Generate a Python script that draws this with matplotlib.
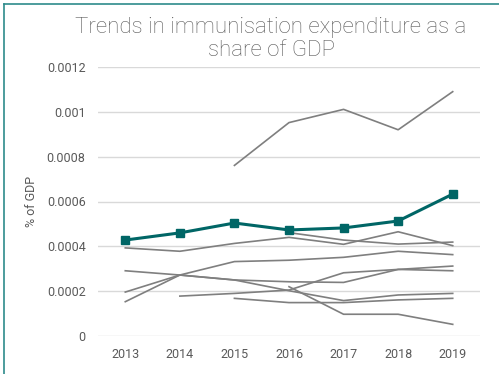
import numpy as np
import matplotlib.pyplot as plt
from matplotlib.lines import Line2D

plt.rcParams['font.family'] = ['Roboto', 'DejaVu Sans']

years = [2013, 2014, 2015, 2016, 2017, 2018, 2019]
nan = np.nan

# highlighted series
main = [0.000428, 0.00046, 0.000504, 0.000473, 0.000482, 0.000513, 0.000633]

# other countries (grey)
others = [
    [nan, nan, 0.000761, 0.000952, 0.001011, 0.00092, 0.00109],
    [0.000393, 0.000378, 0.000413, 0.00044, 0.000409, 0.000465, 0.000403],
    [nan, nan, nan, 0.000461, 0.000428, 0.00041, 0.000419],
    [0.000291, 0.000272, 0.00025, 0.000242, 0.000239, 0.000297, 0.000291],
    [0.000196, 0.000272, 0.000332, 0.000338, 0.000351, 0.000378, 0.000363],
    [0.000153, 0.000272, 0.00025, 0.000202, 0.000158, 0.000183, 0.00019],
    [nan, 0.000178, 0.00019, 0.000205, 0.000282, 0.000297, 0.000312],
    [nan, nan, 0.000168, 0.000149, 0.000149, 0.000161, 0.000168],
    [nan, nan, nan, 0.00022, 0.000097, 0.000097, 0.000052],
]

fig = plt.figure(figsize=(4.99, 3.74), dpi=100)
ax = fig.add_axes([98 / 499, 1 - 336 / 374, 382 / 499, 269 / 374])

for s in others:
    ax.plot(years, s, color='#7f7f7f', lw=1.2, zorder=2)
ax.plot(years, main, color='#006666', lw=2.2, marker='s', ms=6, zorder=3)

ax.set_xlim(2012.5, 2019.5)
ax.set_ylim(0, 0.0012)
ax.set_yticks([0, 0.0002, 0.0004, 0.0006, 0.0008, 0.001, 0.0012])
ax.set_yticklabels(['0', '0.0002', '0.0004', '0.0006', '0.0008', '0.001', '0.0012'])
ax.set_xticks(years)
ax.grid(axis='y', color='#d9d9d9', lw=1)
ax.set_axisbelow(True)
for sp in ax.spines.values():
    sp.set_visible(False)
ax.tick_params(length=0, colors='#595959', labelsize=9, pad=9)
ax.set_ylabel('% of GDP', color='#595959', fontsize=9, labelpad=6)

fig.text(271 / 499, 1 - 39 / 374, 'Trends in immunisation expenditure as a\nshare of GDP',
         ha='center', va='center', fontsize=16, color='#595959',
         fontweight='light', linespacing=1.15)

# teal frame (left and top edges)
fig.add_artist(Line2D([4 / 499, 4 / 499], [0, 1 - 4 / 374], color='#2e8b8b', lw=1.2))
fig.add_artist(Line2D([4 / 499, 1], [1 - 4 / 374, 1 - 4 / 374], color='#2e8b8b', lw=1.2))

fig.savefig('out.png', dpi=100)
